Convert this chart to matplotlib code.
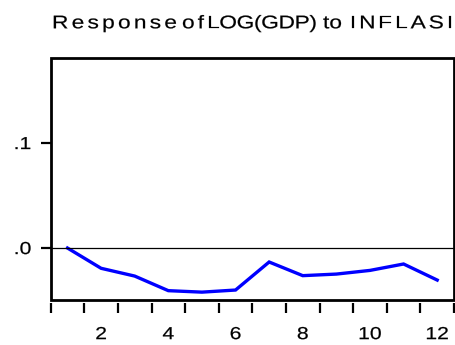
import matplotlib
matplotlib.use("Agg")
import matplotlib.pyplot as plt
from matplotlib.patches import Rectangle
from matplotlib.ticker import FuncFormatter
from matplotlib.font_manager import FontProperties, findfont, get_font
from matplotlib.ft2font import LoadFlags
from matplotlib.patheffects import AbstractPathEffect
from matplotlib.transforms import Affine2D

periods = [1, 2, 3, 4, 5, 6, 7, 8, 9, 10, 11, 12]
response = [0.0, -0.0193, -0.0267, -0.0406, -0.042, -0.040, -0.0133, -0.0263, -0.0248, -0.0213, -0.0152, -0.0305]
x_labels = [2, 4, 6, 8, 10, 12]
y_ticks = [0.0, 0.1]
title_words = ["Response", "of", "LOG(GDP)", "to", "INFLASI"]

plt.rcParams['font.family'] = ['Liberation Sans', 'DejaVu Sans']


class StretchX(AbstractPathEffect):
    """Widen glyphs horizontally (wide-set Arial of the original)."""
    def __init__(self, sx, anchor='left', weight=0.15):
        super().__init__()
        self.sx = sx
        self.anchor = anchor
        self.weight = weight

    def draw_path(self, renderer, gc, tpath, affine, rgbFace=None):
        ext = tpath.get_extents()
        if self.anchor == 'center':
            cx = (ext.x0 + ext.x1) / 2.0
        elif self.anchor == 'right':
            cx = ext.x1
        else:
            cx = 0.0
        t = Affine2D().translate(-cx, 0).scale(self.sx, 1).translate(cx, 0)
        gc0 = renderer.new_gc()
        gc0.copy_properties(gc)
        if rgbFace is not None:
            gc0.set_foreground(rgbFace)
        gc0.set_linewidth(self.weight)
        gc0.set_joinstyle('round')
        renderer.draw_path(gc0, tpath, t + affine, rgbFace)
        gc0.restore()


W, H, DPI = 455, 345, 100
fig = plt.figure(figsize=(W / DPI, H / DPI), dpi=DPI)
ax = fig.add_axes([0.1114, 0.1304, 0.8864, 0.7015])

ax.plot(periods, response, color='#0000ff', lw=2.4, solid_joinstyle='miter')
ax.axhline(0, color='black', lw=0.9)

ax.set_xlim(0.5, 12.5)
ax.set_ylim(-0.0495, 0.181)

# box
for s in ax.spines.values():
    s.set_visible(False)
ax.add_patch(Rectangle((0, 0), 1, 1, transform=ax.transAxes, fill=False,
                       lw=2.0, edgecolor='black', clip_on=False, zorder=5))
ax.spines['bottom'].set_position(('outward', 2.5))

bounds = [p - 0.5 for p in periods] + [periods[-1] + 0.5]
ax.set_xticks(bounds)
ax.set_xticklabels([''] * len(bounds))
ax.tick_params(axis='x', which='major', direction='out', length=7.2, width=1.6)
ax.set_xticks(x_labels, minor=True)
ax.set_xticklabels([str(v) for v in x_labels], minor=True, fontsize=12.5)
ax.tick_params(axis='x', which='minor', length=0, pad=17)

ax.set_yticks(y_ticks)
ax.yaxis.set_major_formatter(FuncFormatter(lambda v, p: ('%.1f' % v).lstrip('0').replace('-', '')))
ax.tick_params(axis='y', direction='out', length=7, width=1.6, labelsize=12.5, pad=7)

# title, laid out word by word with the wide glyphs of the original
SX = 1.24
tsize = 13.2
prop = FontProperties(family='Liberation Sans', size=tsize)
font = get_font(findfont(prop))
font.set_size(tsize, DPI)
word_spans = [(52, 177), (182, 204), (207, 317), (323, 342), (350, 453)]
baseline = 1 - 28.3 / H
for word, (x0, x1) in zip(title_words, word_spans):
    advs = [SX * font.load_char(ord(c), flags=LoadFlags.NO_HINTING).linearHoriAdvance / 65536.0 for c in word]
    track = (x1 - x0 - sum(advs)) / max(len(word) - 1, 1)
    x = x0
    for c, a in zip(word, advs):
        fig.text(x / W, baseline, c, ha='left', va='baseline', fontproperties=prop,
                 path_effects=[StretchX(SX, 'left')])
        x += a + track

fig.canvas.draw()
for lab in ax.xaxis.get_ticklabels(minor=True):
    lab.set_path_effects([StretchX(1.22, 'center')])
for lab in ax.yaxis.get_ticklabels():
    lab.set_path_effects([StretchX(1.22, 'right')])

fig.savefig('out.png', dpi=DPI)
